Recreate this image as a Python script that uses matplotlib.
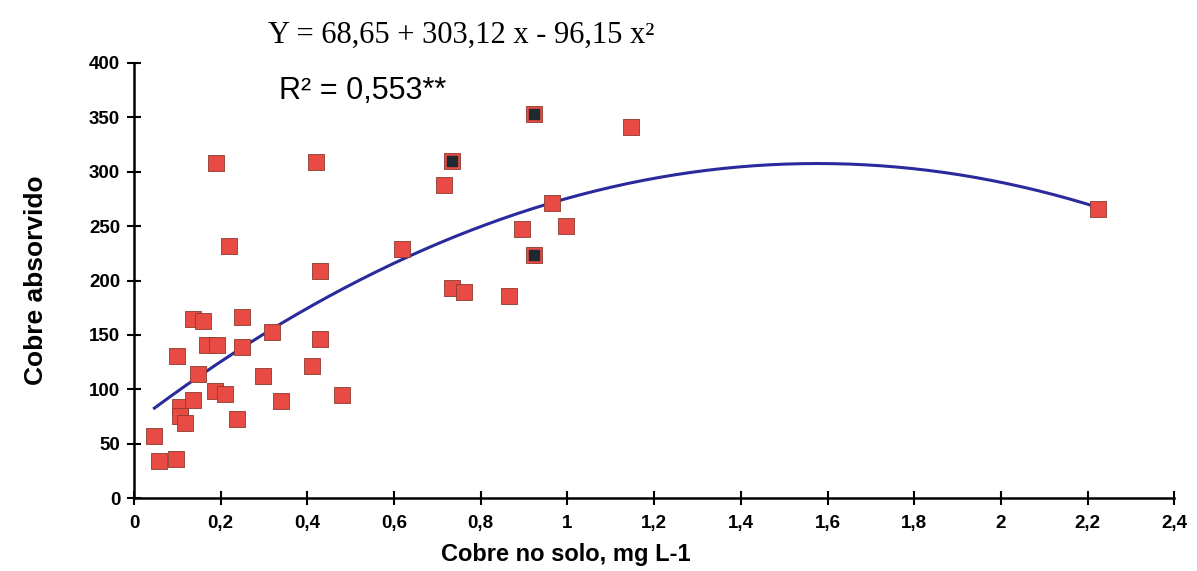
import numpy as np
import matplotlib
matplotlib.use("Agg")
import matplotlib.pyplot as plt

# Copper in soil (mg L-1) vs. copper absorbed
cu_soil = [0.047, 0.058, 0.097, 0.098, 0.106, 0.106, 0.118, 0.137, 0.137, 0.148,
           0.158, 0.168, 0.187, 0.188, 0.191, 0.210, 0.219, 0.237, 0.248, 0.248,
           0.298, 0.318, 0.339, 0.410, 0.420, 0.429, 0.429, 0.479, 0.618, 0.714,
           0.733, 0.733, 0.761, 0.864, 0.895, 0.923, 0.923, 0.964, 0.996, 1.146,
           2.225]
cu_absorbed = [57, 34, 36, 131, 84, 75, 69, 90, 165, 114,
               163, 141, 98, 308, 141, 96, 232, 73, 166, 139,
               112, 153, 89, 121, 309, 146, 209, 95, 229, 288,
               310, 193, 189, 186, 247, 353, 223, 271, 250, 341,
               266]

# Observations drawn with a dark centre
dark_x = [0.733, 0.923, 0.923]
dark_y = [310, 353, 223]

# Quadratic fit Y = b0 + b1 x + b2 x^2
b0, b1, b2 = 68.65, 303.12, -96.15
fit_range = [0.047, 2.225]

x_ticks = [0, 0.2, 0.4, 0.6, 0.8, 1.0, 1.2, 1.4, 1.6, 1.8, 2.0, 2.2, 2.4]
x_tick_labels = ["0", "0,2", "0,4", "0,6", "0,8", "1", "1,2", "1,4", "1,6", "1,8", "2", "2,2", "2,4"]
y_ticks = [0, 50, 100, 150, 200, 250, 300, 350, 400]

fig = plt.figure(figsize=(11.97, 5.71), dpi=100)
ax = fig.add_axes([0.112, 0.1278, 0.869, 0.7619])

xs = np.linspace(fit_range[0], fit_range[1], 300)
ax.plot(xs, b0 + b1 * xs + b2 * xs ** 2, color="#2a2a9c", lw=2.2, zorder=2)

ax.scatter(cu_soil, cu_absorbed, marker="s", s=140, color="#e84a44",
           edgecolors="#8a3a30", linewidths=0.6, zorder=3)
ax.scatter(dark_x, dark_y, marker="s", s=45, color="#1e2a30", zorder=4)

ax.set_xlim(0, 2.4)
ax.set_ylim(0, 400)
for s in ("top", "right"):
    ax.spines[s].set_visible(False)
for s in ("left", "bottom"):
    ax.spines[s].set_linewidth(1.8)
    ax.spines[s].set_color("black")

ax.set_xticks(x_ticks)
ax.set_xticklabels(x_tick_labels, fontfamily="Liberation Sans", fontweight="bold", fontsize=13.5)
ax.set_yticks(y_ticks)
ax.set_yticklabels([str(v) for v in y_ticks], fontfamily="Liberation Sans",
                   fontweight="bold", fontsize=13.5)
ax.tick_params(axis="both", direction="inout", length=10, width=1.5, color="black")
ax.tick_params(axis="x", pad=7)
ax.tick_params(axis="y", pad=5)

ax.set_xlabel("Cobre no solo, mg L-1", fontfamily="Liberation Sans", fontweight="bold",
              fontsize=17)
ax.xaxis.set_label_coords(0.415, -0.103)
ax.set_ylabel("Cobre absorvido", fontfamily="Liberation Sans", fontweight="bold",
              fontsize=19)
ax.yaxis.set_label_coords(-0.083, 0.5)

fig.text(0.385, 0.939, "Y = 68,65 + 303,12 x - 96,15 x²", ha="center", va="center",
         fontfamily="Liberation Serif", fontsize=22)
fig.text(0.303, 0.840, "R² = 0,553**", ha="center", va="center",
         fontfamily="Liberation Sans", fontsize=22)

fig.savefig("out.png", dpi=100)
